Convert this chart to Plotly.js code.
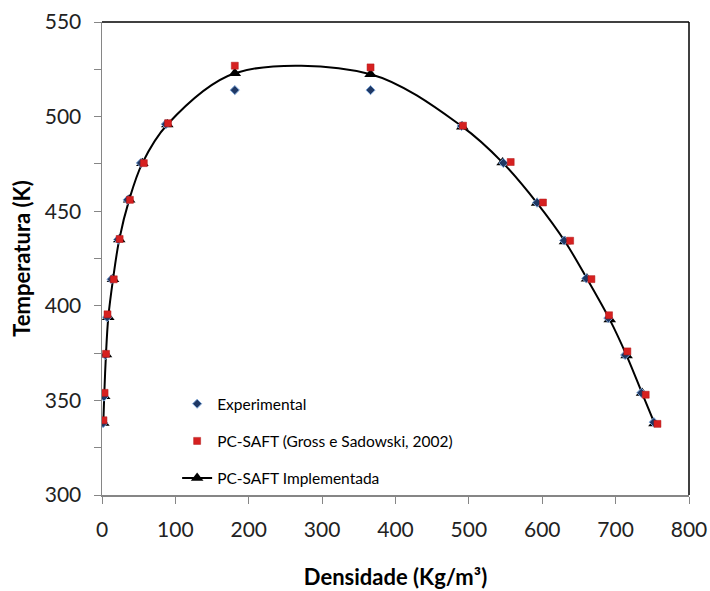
<!DOCTYPE html>
<html>
<head>
<meta charset="utf-8">
<script src="https://cdn.plot.ly/plotly-3.0.1.min.js"></script>
<style>
  html, body { margin: 0; padding: 0; background: #fff; }
  #chart { width: 710px; height: 591px; }
</style>
</head>
<body>
<div id="chart"></div>
<script>
// Saturated liquid/vapour densities (kg/m³) and temperatures (K)
const expDensity = [1.5, 2.5, 4.5, 7, 13, 22, 35, 53, 87, 181, 366, 490, 547, 593, 630, 660, 690, 713, 735, 752];
const expTemp    = [338, 352, 374, 394, 414, 435, 456, 475.5, 496, 514, 514, 495, 475.5, 454.5, 434.5, 414.5, 393.5, 374, 354, 338.5];

const grossDensity = [2, 3.5, 5.5, 7.5, 16, 24, 38, 57, 90, 181, 366, 492, 557, 601, 638, 667, 691, 716, 741, 757];
const grossTemp    = [339.5, 354, 374.6, 395.5, 414, 435.3, 456, 475.4, 496.5, 526.9, 526, 495.2, 476, 454.6, 434.4, 414.1, 395, 375.9, 353, 337.6];

const implDensity = [1.8, 3, 5.4, 8.6, 15, 23.5, 37, 55, 89, 181, 366, 491, 546, 593, 631, 661, 692, 715, 736, 753];
const implTemp    = [338, 352.2, 374.2, 394, 414, 435, 456, 475.4, 495.8, 522.9, 522.4, 494.7, 475.7, 454.3, 434, 414.3, 392.7, 373.7, 353.9, 337.8];

const seriesNames = ['Experimental', 'PC-SAFT (Gross e Sadowski, 2002)', 'PC-SAFT Implementada'];

const yTickVals = [300, 325, 350, 375, 400, 425, 450, 475, 500, 525, 550];
const yTickText = ['300', '', '350', '', '400', '', '450', '', '500', '', '550'];
const xTickVals = [0, 100, 200, 300, 400, 500, 600, 700, 800];

const FONT = 'Lato, "Open Sans", sans-serif';

const traces = [
  {
    x: implDensity, y: implTemp,
    name: seriesNames[2],
    mode: 'lines+markers',
    line: { color: '#000000', width: 2, shape: 'spline', smoothing: 0.95 },
    marker: { symbol: 'triangle-up', size: 11, color: '#000000' },
    legendgroup: 'c', legendrank: 3
  },
  {
    x: expDensity, y: expTemp,
    name: seriesNames[0],
    mode: 'markers',
    marker: { symbol: 'diamond', size: 7, color: '#1F3864', line: { color: '#7FA7D9', width: 1 } },
    legendgroup: 'a', legendrank: 1
  },
  {
    x: grossDensity, y: grossTemp,
    name: seriesNames[1],
    mode: 'markers',
    marker: { symbol: 'square', size: 7, color: '#D62020', line: { color: '#B01818', width: 0.5 } },
    legendgroup: 'b', legendrank: 2
  }
];

const layout = {
  width: 710, height: 591,
  margin: { l: 102, r: 21, t: 22, b: 96 },
  paper_bgcolor: '#ffffff',
  plot_bgcolor: '#ffffff',
  font: { family: FONT, color: '#000000' },
  showlegend: true,
  legend: {
    x: 0.128, y: 0.228, xanchor: 'left', yanchor: 'top',
    bgcolor: 'rgba(0,0,0,0)',
    font: { size: 15.5, family: FONT, color: '#000' },
    traceorder: 'grouped',
    tracegroupgap: 14
  },
  xaxis: {
    range: [0, 800],
    tickvals: xTickVals,
    ticks: 'outside', ticklen: 7, tickcolor: '#868686',
    tickfont: { size: 21, family: FONT, color: '#222' },
    ticklabelstandoff: 8,
    showgrid: false, zeroline: false,
    showline: true, linecolor: '#868686', linewidth: 1.5,
    title: { text: '<b>Densidade (Kg/m³)</b>', font: { size: 22, family: FONT }, standoff: 30 }
  },
  yaxis: {
    range: [300, 550],
    tickvals: yTickVals, ticktext: yTickText,
    ticks: 'outside', ticklen: 7, tickcolor: '#868686',
    tickfont: { size: 21, family: FONT, color: '#222' },
    ticklabelstandoff: 8,
    showgrid: false, zeroline: false,
    showline: true, linecolor: '#868686', linewidth: 1.5,
    title: { text: '<b>Temperatura (K)</b>', font: { size: 22, family: FONT }, standoff: 8 }
  },
  shapes: [
    { type: 'line', xref: 'paper', yref: 'paper', x0: 0, x1: 1, y0: 1, y1: 1, line: { color: '#000', width: 1.5 } },
    { type: 'line', xref: 'paper', yref: 'paper', x0: 1, x1: 1, y0: 0, y1: 1, line: { color: '#000', width: 1.5 } }
  ]
};

Plotly.newPlot('chart', traces, layout, { displayModeBar: false, staticPlot: true });
</script>
</body>
</html>
